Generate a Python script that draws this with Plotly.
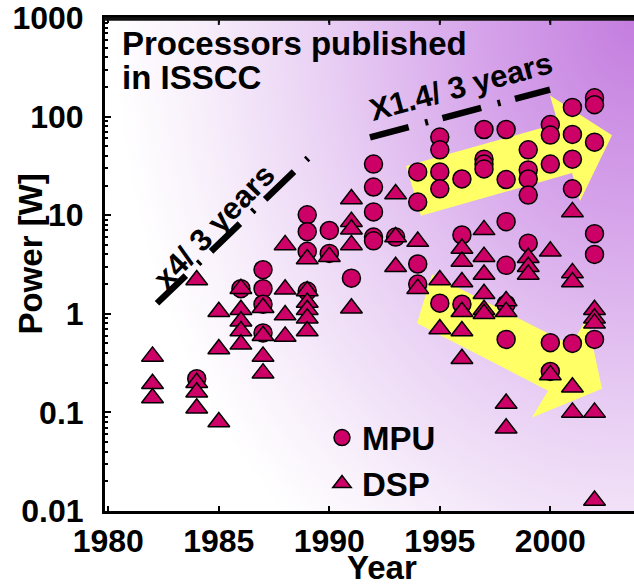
import base64
import plotly.graph_objects as go

# ---------------- data ----------------
mpu_year = ([1984, 1986] + [1987] * 4 + [1989] * 4 + [1990] * 2 + [1991] + [1992] * 5 + [1993]
            + [1994] * 4 + [1995] * 5 + [1996] * 3 + [1997] * 4 + [1998] * 6 + [1999] * 5
            + [2000] * 5 + [2001] * 5 + [2002] * 6)
mpu_power = ([0.22, 1.8] + [2.8, 1.8, 1.25, 0.64] + [10.1, 6.8, 4.3, 1.7] + [7.0, 4.1] + [2.3]
             + [33, 19.3, 10.8, 6.0, 5.5] + [6.0] + [27.5, 13.6, 3.2, 2.0]
             + [62, 46, 27.5, 18.5, 1.28] + [23.3, 6.3, 1.25] + [74, 37, 33, 29.5]
             + [74, 23, 8.6, 3.1, 1.25, 0.55] + [46, 28.8, 23.3, 16, 5.2]
             + [83, 65, 33, 0.51, 0.26] + [124, 66, 37, 18.5, 0.5] + [155, 132, 55, 6.5, 4.0, 0.55])

dsp_year = ([1982] * 3 + [1984] * 4 + [1985] * 3 + [1986] * 5 + [1987] * 4 + [1988] * 4
            + [1989] * 6 + [1990] + [1991] * 5 + [1993] * 3 + [1994] * 2 + [1995] * 2
            + [1996] * 6 + [1997] * 6 + [1998] * 4 + [1999] * 3 + [2000] * 2 + [2001] * 5 + [2002] * 5)
dsp_power = ([0.37, 0.195, 0.14] + [2.2, 0.2, 0.16, 0.11] + [1.05, 0.44, 0.08]
             + [1.8, 1.1, 0.84, 0.67, 0.49] + [1.15, 0.6, 0.37, 0.25] + [5.0, 1.77, 0.97, 0.59]
             + [3.6, 1.7, 1.3, 1.1, 0.9, 0.67] + [3.8] + [14.6, 8.6, 7.2, 5.0, 1.14]
             + [16.4, 6.0, 3.0] + [5.4, 1.8] + [2.2, 0.7] + [4.6, 3.4, 2.1, 1.05, 0.67, 0.35]
             + [7.1, 3.8, 2.5, 1.6, 1.1, 1.0] + [1.35, 1.05, 0.123, 0.069] + [3.7, 3.0, 2.5]
             + [4.3, 0.24] + [10.8, 2.6, 2.1, 0.18, 0.1] + [1.1, 0.9, 0.8, 0.1, 0.0128])

x_ticks = [1980, 1985, 1990, 1995, 2000]
y_ticks = [0.01, 0.1, 1, 10, 100, 1000]
y_tick_text = ["0.01", "0.1", "1", "10", "100", "1000"]

# ---------------- layout geometry ----------------
W, H = 634, 586
ML, MR, MT, MB = 105, 0, 15, 75
PW, PH = W - ML - MR, H - MT - MB
FONT = "Liberation Sans, Arial, sans-serif"
MARK = "#cc0066"


def px(x, y):
    return (x - ML) / PW, (H - MB - y) / PH


def path(points):
    pts = [px(*p) for p in points]
    return "M " + " L ".join(f"{a:.4f},{b:.4f}" for a, b in pts) + " Z"


# background gradient (style only)
svg = (
    f"<svg xmlns='http://www.w3.org/2000/svg' width='{PW}' height='{PH}' viewBox='0 0 {PW} {PH}' preserveAspectRatio='none'>"
    f"<defs><radialGradient id='g' cx='{PW}' cy='0' r='520' gradientUnits='userSpaceOnUse' "
    f"gradientTransform='translate({PW},0) scale(1,1.3) translate({-PW},0)'>"
    "<stop offset='0' stop-color='#c47ddf'/><stop offset='0.3' stop-color='#d6a4ea'/>"
    "<stop offset='0.6' stop-color='#e9d0f4'/><stop offset='0.85' stop-color='#f8f0fb'/>"
    "<stop offset='1' stop-color='#ffffff'/></radialGradient></defs>"
    f"<rect width='{PW}' height='{PH}' fill='url(#g)'/></svg>"
)
svg_uri = "data:image/svg+xml;base64," + base64.b64encode(svg.encode()).decode()

arrow_up = [(406, 164), (558, 121), (550, 93), (612, 133), (580, 199), (572, 171), (421, 214)]
arrow_down = [(432, 273), (571, 344), (587, 317), (602, 388), (532, 417), (548, 390), (417, 322)]

shapes = [
    dict(type="path", xref="paper", yref="paper", path=path(arrow_up),
         fillcolor="#ffff66", line=dict(width=0), layer="below"),
    dict(type="path", xref="paper", yref="paper", path=path(arrow_down),
         fillcolor="#ffff66", line=dict(width=0), layer="below"),
]
for (x0, y0), (x1, y1) in [((157, 302), (308, 156)), ((370, 135), (550, 87))]:
    a0, b0 = px(x0, y0)
    a1, b1 = px(x1, y1)
    shapes.append(dict(type="line", xref="paper", yref="paper", x0=a0, y0=b0, x1=a1, y1=b1,
                       line=dict(color="black", width=6.5, dash="40px,17px,3px,15px"),
                       layer="below"))
# top frame line and its inward ticks
top_y = 1 - 1.0 / PH
shapes.append(dict(type="line", xref="paper", yref="paper", x0=-1.5 / PW, x1=1, y0=top_y, y1=top_y,
                   line=dict(color="#111111", width=3.5), layer="above"))
for t in x_ticks[1:]:
    shapes.append(dict(type="line", xref="x", yref="paper", x0=t, x1=t, y0=1, y1=1 - 7 / PH,
                       line=dict(color="#111111", width=2), layer="above"))

fig = go.Figure()
fig.add_trace(go.Scatter(
    x=mpu_year, y=mpu_power, mode="markers", name="MPU",
    marker=dict(symbol="circle", size=18, color=MARK, line=dict(color="black", width=1.5)),
))
fig.add_trace(go.Scatter(
    x=dsp_year, y=dsp_power, mode="markers", name="DSP",
    marker=dict(symbol="triangle-up", size=19, color=MARK, line=dict(color="black", width=1.5)),
))

minor_vals = [m * 10 ** e for e in range(-2, 3) for m in range(2, 10)]

ann = []


def add_text(text, x, y, size, angle=0, xanchor="center"):
    a, b = px(x, y)
    ann.append(dict(text=text, x=a, y=b, xref="paper", yref="paper", showarrow=False,
                    xanchor=xanchor, yanchor="middle", textangle=angle,
                    font=dict(family=FONT, size=size, color="black", weight="bold")))


add_text("Processors published", 120, 41, 33, xanchor="left")
add_text("in ISSCC", 120, 75, 33, xanchor="left")
add_text("x4/ 3 years", 214, 225, 31, angle=-46)
add_text("X1.4/ 3 years", 461, 84, 31, angle=-15)
add_text("Year", 382, 568, 33)
add_text("Power [W]", 31, 253, 33, angle=-90)

fig.update_layout(
    width=W, height=H,
    margin=dict(l=ML, r=MR, t=MT, b=MB, pad=0),
    paper_bgcolor="white", plot_bgcolor="rgba(0,0,0,0)",
    images=[dict(source=svg_uri, xref="paper", yref="paper", x=0, y=1, sizex=1, sizey=1,
                 xanchor="left", yanchor="top", sizing="stretch", layer="below")],
    shapes=shapes,
    annotations=ann,
    showlegend=True,
    legend=dict(x=px(322, 0)[0], y=px(0, 409)[1], xanchor="left", yanchor="top",
                bgcolor="rgba(0,0,0,0)", tracegroupgap=0,
                font=dict(family=FONT, size=33, color="black", weight="bold")),
    xaxis=dict(range=[1979.85, 1979.85 + PW / 22.1], tickvals=x_ticks, showgrid=False, zeroline=False,
               showline=True, linecolor="black", linewidth=3, mirror="ticks",
               ticks="inside", ticklen=5, tickwidth=2, tickcolor="black",
               ticklabelstandoff=0,
               tickfont=dict(family=FONT, size=32, color="black", weight="bold")),
    yaxis=dict(type="log", range=[-2, 3], tickvals=y_ticks, ticktext=y_tick_text,
               showgrid=False, zeroline=False, showline=True, linecolor="black", linewidth=3,
               ticks="inside", ticklen=6, tickwidth=2, tickcolor="black",
               ticklabelstandoff=12, ticklabeloverflow="allow",
               minor=dict(tickvals=minor_vals, ticks="inside", ticklen=3, tickwidth=1.5,
                          tickcolor="black", showgrid=False),
               tickfont=dict(family=FONT, size=32, color="black", weight="bold")),
)

fig.write_html("out.html", config={"displayModeBar": False},
               post_script="document.body.style.margin='0';document.body.style.overflow='hidden';")
